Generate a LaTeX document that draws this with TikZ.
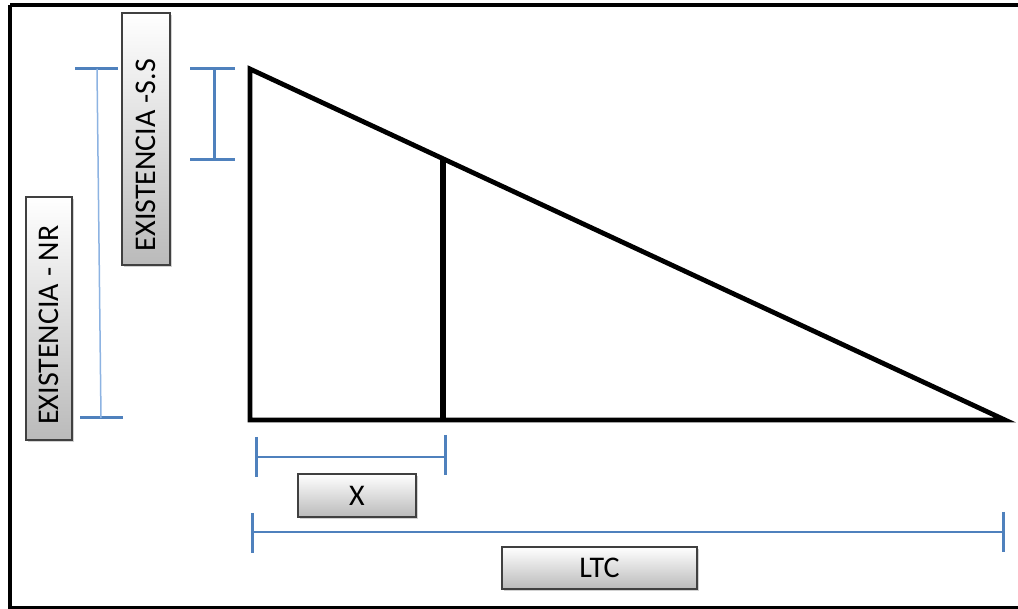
\documentclass[tikz,border=0pt]{standalone}
\usepackage{fontspec}
\setmainfont{Carlito}
\usetikzlibrary{shadows}
\definecolor{dimblue}{HTML}{4F81BD}
\definecolor{thinblue}{HTML}{8DB3E2}
\tikzset{
  labelbox/.style={draw=black!75, line width=1.3pt, top color=white, bottom color=black!27,
    drop shadow={shadow xshift=2pt, shadow yshift=-2pt, opacity=0.35},
    inner sep=0pt, font=\fontsize{30}{30}\selectfont},
  triline/.style={line width=4.8pt, line join=miter},
  dim/.style={dimblue, line width=3pt},
  dimthin/.style={dimblue, line width=1.5pt},
  dimfaint/.style={thinblue, line width=1.5pt},
}
\begin{document}
\begin{tikzpicture}[x=1pt,y=-1pt]
\useasboundingbox (0,0) rectangle (1018,609);
\clip (0,0) rectangle (1018,609);
\fill[white] (0,0) rectangle (1018,609);
% frame
\draw[line width=4.5pt] (10,5) -- (1025,5) (10,5) -- (10,608) -- (1025,608);

% triangle
\coordinate (A) at (250,69);
\coordinate (B) at (250,420);
\coordinate (C) at (1005,420);
\draw[triline] (A) -- (B) -- (C) -- cycle;
\coordinate (D) at (443,158.7);
\coordinate (E) at (443,420);
\draw[line width=6pt] (D) -- (E);

% S.S dimension
\coordinate (s1a) at (190,69); \coordinate (s1b) at (235,69);
\coordinate (s2a) at (190,160); \coordinate (s2b) at (235,160);
\coordinate (s1m) at (214,69); \coordinate (s2m) at (214,160);
\draw[dim] (s1a) -- (s1b) (s2a) -- (s2b) (s1m) -- (s2m);
\node[labelbox, rotate=90, minimum width=252pt, minimum height=48pt] (ss) at (146,139) {EXISTENCIA -S.S\hspace*{32pt}};

% NR dimension
\coordinate (n1a) at (75,69); \coordinate (n1b) at (118,69);
\coordinate (n2a) at (80,418); \coordinate (n2b) at (123,418);
\coordinate (n1m) at (97,69); \coordinate (n2m) at (101,418);
\draw[dim] (n1a) -- (n1b) (n2a) -- (n2b);
\draw[dimfaint] (n1m) -- (n2m);
\node[labelbox, rotate=90, minimum width=243pt, minimum height=46pt] (nr) at (49,318.5) {EXISTENCIA - NR\hspace*{13pt}};

% X dimension
\coordinate (x1a) at (256,437); \coordinate (x1b) at (256,477);
\coordinate (x2a) at (445,435); \coordinate (x2b) at (445,475);
\coordinate (x1m) at (256,457); \coordinate (x2m) at (445,457);
\draw[dim] (x1a) -- (x1b) (x2a) -- (x2b);
\draw[dimthin] (x1m) -- (x2m);
\node[labelbox, minimum width=118pt, minimum height=43pt] (xb) at (357,495.5) {X};

% LTC dimension
\coordinate (l1a) at (252,513); \coordinate (l1b) at (252,553);
\coordinate (l2a) at (1003,512); \coordinate (l2b) at (1003,552);
\coordinate (l1m) at (252,532); \coordinate (l2m) at (1003,532);
\draw[dim] (l1a) -- (l1b) (l2a) -- (l2b);
\draw[dimblue, line width=2.2pt] (l1m) -- (l2m);
\node[labelbox, minimum width=195pt, minimum height=42pt] (ltc) at (599.5,568) {LTC};
\end{tikzpicture}
\end{document}
